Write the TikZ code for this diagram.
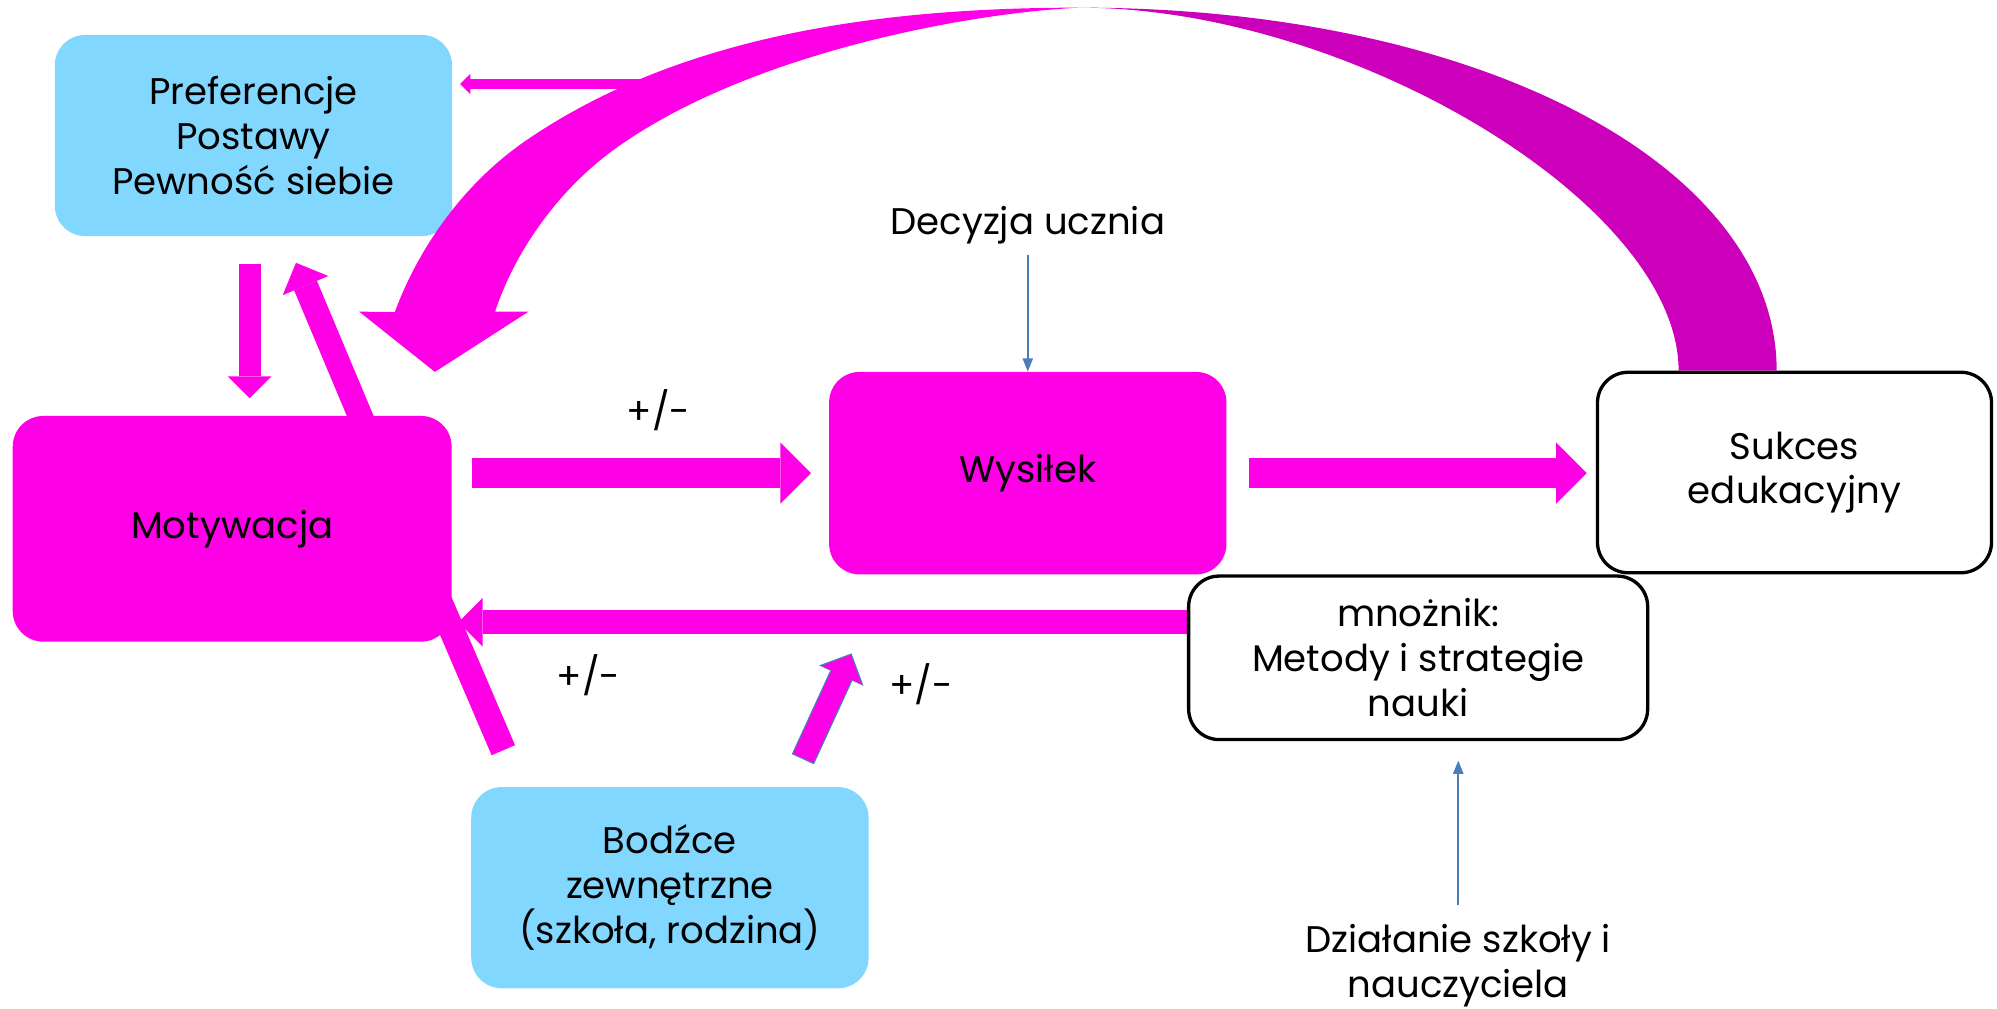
\documentclass[tikz,border=0pt]{standalone}
\usepackage{fontspec}
\setmainfont{Poppins}
\usepackage{tikz}
\usetikzlibrary{arrows.meta,backgrounds,calc}
\definecolor{mag}{HTML}{FF00E6}
\definecolor{magdark}{HTML}{CC00BB}
\definecolor{skyfill}{HTML}{82D7FF}
\definecolor{steel}{HTML}{4A7EBB}

\begin{document}
\begin{tikzpicture}[
    x=0.25mm, y=-0.25mm,
    font=\fontsize{20.7}{25}\selectfont,
    box/.style={rounded corners=6mm, inner sep=0pt, align=center},
    skybox/.style={box, fill=skyfill, minimum width=78mm, minimum height=39.5mm},
    magbox/.style={box, fill=mag},
    outbox/.style={box, draw=black, fill=white, line width=0.65mm},
    blockarrow/.style={draw=mag, line width=#1, -{Triangle[length=#1, width'=0pt 2, line width=0pt]}},
    thinarrow/.style={draw=steel, line width=0.35mm, -{Triangle[length=2.6mm, width=2mm]}},
    pmtext/.style={inner sep=0pt}]
  \useasboundingbox (0,0) rectangle (1568,792);

  % boxes
  \node[skybox] (pref) at (199,106.4) {Preferencje\\Postawy\\Pewność siebie};
  \node[magbox, minimum width=86.15mm, minimum height=44.3mm] (motyw) at (182.3,415.2) {\raisebox{-0.75mm}{Motywacja}};
  \node[magbox, minimum width=78mm, minimum height=39.75mm] (wysil) at (807,371.5) {\raisebox{-0.75mm}{Wysiłek}};
  \node[outbox, minimum width=77.35mm, minimum height=39.35mm] (sukces) at (1409,371) {Sukces\\edukacyjny};
  \node[outbox, minimum width=90.1mm, minimum height=32.1mm] (mnoz) at (1113.5,516.5) {mnożnik:\\Metody i strategie\\nauki};
  \node[skybox] (bodz) at (526,697) {Bodźce\\zewnętrzne\\(szkoła, rodzina)};

  % free texts
  \node[inner sep=2mm] (decyz) at (807,177) {Decyzja ucznia};
  \node[align=center, inner sep=0pt] (dzial) at (1145,758) {Działanie szkoły i\\nauczyciela};
  \node[pmtext] (pm1) at (517,322) {+/-};
  \node[pmtext] (pm2) at (462,530) {+/-};
  \node[pmtext] (pm3) at (723,537) {+/-};

  \coordinate (fbtop) at (520,66);
  \coordinate (fbk) at ($(mnoz.west)+(0,-28)$);
  \coordinate (s1) at (630.8,595.2);
  \coordinate (s2) at (668,514.3);

  % block arrows, under the boxes
  \begin{pgfonlayer}{background}
    \draw[blockarrow=6mm, shorten <=3.85mm, shorten >=3.5mm] (motyw.east |- wysil.west) -- (wysil.west);
    \draw[blockarrow=6mm, shorten <=4.25mm, shorten >=1.8mm] (wysil.east) -- (wysil.east -| sukces.west);
    \draw[blockarrow=4.75mm, shorten >=1.25mm] (fbk) -- (fbk -| motyw.east);
    \draw[blockarrow=4.3mm, shorten <=5.4mm, shorten >=3.4mm] ([xshift=-0.75mm]pref.south) -- ([xshift=-0.75mm]pref.south |- motyw.north);
    \draw[blockarrow=4.85mm, shorten >=5.6mm] ($(motyw.north)+(108,18)$) -- ($(pref.south)+(24.7,0)$);
    \draw[blockarrow=5mm, shorten <=7.8mm] ($(bodz.north)+(-118.5,0)$) -- ($(motyw.center)+(140.4,4.8)$);
    \draw[blockarrow=2mm, shorten >=1.5mm] (fbtop) -- (fbtop -| pref.east);
  \end{pgfonlayer}

  % outlined arrow
  \draw[blockarrow=4.8mm, draw=steel, shorten <=-0.25mm, shorten >=-0.35mm] (s1) -- (s2);
  \draw[blockarrow=4.3mm] (s1) -- (s2);

  % curved arrow back from the success box
  \fill[magdark] (848,6) .. controls (1160,6) and (1395,129) .. (1395,291)
    -- (1318,291) .. controls (1318,160) and (1059.5,6) .. (848,6) -- cycle;
  \fill[mag] (310,245) .. controls (329.8,191.6) and (366.4,142.1) .. (413.5,110)
    .. controls (537.4,25.4) and (698,6) .. (848,6)
    .. controls (760,10) and (585,42.4) .. (481.6,117.8)
    .. controls (439.6,148.4) and (405.1,195.4) .. (388.7,244.7)
    -- (415,244.7) -- (341.5,292) -- (282,244.7) -- cycle;

  % thin input arrows
  \draw[thinarrow] (decyz.south) -- (wysil.north);
  \draw[thinarrow, shorten >=3.8mm] ([yshift=3.75mm]dzial.north) -- (dzial.north |- mnoz.south);
\end{tikzpicture}
\end{document}
